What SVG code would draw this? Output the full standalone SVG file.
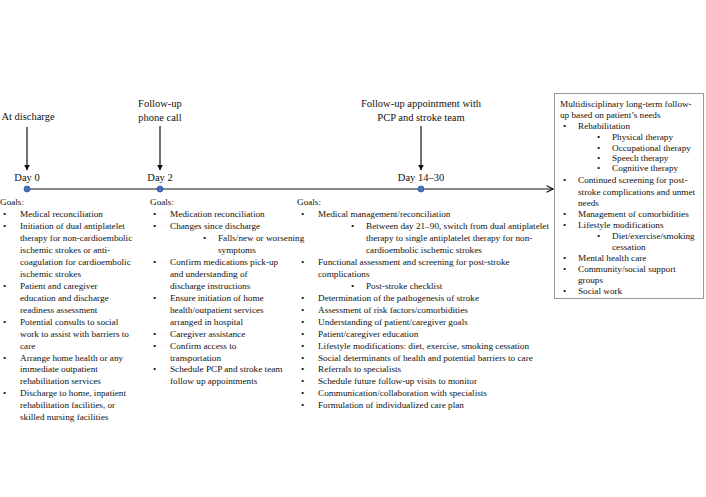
<svg xmlns="http://www.w3.org/2000/svg" width="706" height="497" viewBox="0 0 706 497">
<defs>
<style>
text{font-family:"Liberation Serif","Times New Roman",serif;fill:#111;}
.b{font-size:9.2px;}
.h{font-size:10.5px;}
.c{text-anchor:middle;}
.ar{stroke:#111;stroke-width:1.2;fill:none;}
.dot{fill:#4472C4;stroke:#2F5597;stroke-width:0.8;}
</style>
<marker id="ah" viewBox="0 0 10 10" refX="9" refY="5" markerWidth="6" markerHeight="6" orient="auto" markerUnits="userSpaceOnUse"><path d="M0,0 L10,5 L0,10 z" fill="#111"/></marker>
<marker id="oa" viewBox="0 0 10 10" refX="9" refY="5" markerWidth="8" markerHeight="8" orient="auto" markerUnits="userSpaceOnUse"><path d="M1,1 L9,5 L1,9" fill="none" stroke="#111" stroke-width="1.4"/></marker>
</defs>
<rect width="706" height="497" fill="#fff"/>
<g id="connectors">
<line class="ar" x1="27" y1="189" x2="553" y2="189" marker-end="url(#oa)"/>
<line class="ar" x1="27" y1="127" x2="27" y2="170" marker-end="url(#ah)"/>
<line class="ar" x1="160" y1="126" x2="160" y2="170" marker-end="url(#ah)"/>
<line class="ar" x1="421" y1="126" x2="421" y2="170" marker-end="url(#ah)"/>
</g>
<g id="day0">
<text class="h c" x="28" y="120">At discharge</text>
<text class="h c" x="27" y="181">Day 0</text>
<circle class="dot" cx="27" cy="189" r="3"/>
<g class="b">
<text x="0" y="205">Goals:</text>
<text x="3" y="217">•</text><text x="20" y="217">Medical reconciliation</text>
<text x="3" y="229">•</text><text x="20" y="229">Initiation of dual antiplatelet</text>
<text x="20" y="241">therapy for non-cardioembolic</text>
<text x="20" y="253">ischemic strokes or anti-</text>
<text x="20" y="265">coagulation for cardioembolic</text>
<text x="20" y="277">ischemic strokes</text>
<text x="3" y="289">•</text><text x="20" y="289">Patient and caregiver</text>
<text x="20" y="301">education and discharge</text>
<text x="20" y="313">readiness assessment</text>
<text x="3" y="325">•</text><text x="20" y="325">Potential consults to social</text>
<text x="20" y="337">work to assist with barriers to</text>
<text x="20" y="349">care</text>
<text x="3" y="361">•</text><text x="20" y="361">Arrange home health or any</text>
<text x="20" y="372">immediate outpatient</text>
<text x="20" y="384">rehabilitation services</text>
<text x="3" y="396">•</text><text x="20" y="396">Discharge to home, inpatient</text>
<text x="20" y="408">rehabilitation facilities, or</text>
<text x="20" y="420">skilled nursing facilities</text>
</g>
</g>
<g id="day2">
<text class="h c" x="160" y="107">Follow-up</text>
<text class="h c" x="160" y="121">phone call</text>
<text class="h c" x="160" y="181">Day 2</text>
<circle class="dot" cx="160" cy="189" r="3"/>
<g class="b">
<text x="150" y="205">Goals:</text>
<text x="153" y="217">•</text><text x="170" y="217">Medication reconciliation</text>
<text x="153" y="229">•</text><text x="170" y="229">Changes since discharge</text>
<text x="203" y="241">•</text><text x="218" y="241">Falls/new or worsening</text>
<text x="218" y="253">symptoms</text>
<text x="153" y="265">•</text><text x="170" y="265">Confirm medications pick-up</text>
<text x="170" y="277">and understanding of</text>
<text x="170" y="289">discharge instructions</text>
<text x="153" y="301">•</text><text x="170" y="301">Ensure initiation of home</text>
<text x="170" y="313">health/outpatient services</text>
<text x="170" y="325">arranged in hospital</text>
<text x="153" y="337">•</text><text x="170" y="337">Caregiver assistance</text>
<text x="153" y="349">•</text><text x="170" y="349">Confirm access to</text>
<text x="170" y="361">transportation</text>
<text x="153" y="372">•</text><text x="170" y="372">Schedule PCP and stroke team</text>
<text x="170" y="384">follow up appointments</text>
</g>
</g>
<g id="day14">
<text class="h c" x="421" y="107">Follow-up appointment with</text>
<text class="h c" x="421" y="121">PCP and stroke team</text>
<text class="h c" x="421" y="181">Day 14–30</text>
<circle class="dot" cx="421" cy="189" r="3"/>
<g class="b">
<text x="297" y="205">Goals:</text>
<text x="301" y="217">•</text><text x="318" y="217">Medical management/reconciliation</text>
<text x="351" y="229">•</text><text x="366" y="229">Between day 21–90, switch from dual antiplatelet</text>
<text x="366" y="241">therapy to single antiplatelet therapy for non-</text>
<text x="366" y="253">cardioembolic ischemic strokes</text>
<text x="301" y="265">•</text><text x="318" y="265">Functional assessment and screening for post-stroke</text>
<text x="318" y="277">complications</text>
<text x="351" y="289">•</text><text x="366" y="289">Post-stroke checklist</text>
<text x="301" y="301">•</text><text x="318" y="301">Determination of the pathogenesis of stroke</text>
<text x="301" y="313">•</text><text x="318" y="313">Assessment of risk factors/comorbidities</text>
<text x="301" y="325">•</text><text x="318" y="325">Understanding of patient/caregiver goals</text>
<text x="301" y="337">•</text><text x="318" y="337">Patient/caregiver education</text>
<text x="301" y="349">•</text><text x="318" y="349">Lifestyle modifications: diet, exercise, smoking cessation</text>
<text x="301" y="361">•</text><text x="318" y="361">Social determinants of health and potential barriers to care</text>
<text x="301" y="372">•</text><text x="318" y="372">Referrals to specialists</text>
<text x="301" y="384">•</text><text x="318" y="384">Schedule future follow-up visits to monitor</text>
<text x="301" y="396">•</text><text x="318" y="396">Communication/collaboration with specialists</text>
<text x="301" y="408">•</text><text x="318" y="408">Formulation of individualized care plan</text>
</g>
</g>
<g id="longterm">
<rect x="554.5" y="93.5" width="149" height="205" fill="#fff" stroke="#999" stroke-width="1"/>
<g class="b">
<text x="560" y="107">Multidisciplinary long-term follow-</text>
<text x="560" y="118">up based on patient’s needs</text>
<text x="563" y="129">•</text><text x="578" y="129">Rehabilitation</text>
<text x="597" y="140">•</text><text x="612" y="140">Physical therapy</text>
<text x="597" y="151">•</text><text x="612" y="151">Occupational therapy</text>
<text x="597" y="161">•</text><text x="612" y="161">Speech therapy</text>
<text x="597" y="171">•</text><text x="612" y="171">Cognitive therapy</text>
<text x="563" y="183">•</text><text x="578" y="183">Continued screening for post-</text>
<text x="578" y="195">stroke complications and unmet</text>
<text x="578" y="206">needs</text>
<text x="563" y="217">•</text><text x="578" y="217">Management of comorbidities</text>
<text x="563" y="228">•</text><text x="578" y="228">Lifestyle modifications</text>
<text x="597" y="239">•</text><text x="612" y="239">Diet/exercise/smoking</text>
<text x="612" y="250">cessation</text>
<text x="563" y="261">•</text><text x="578" y="261">Mental health care</text>
<text x="563" y="272">•</text><text x="578" y="272">Community/social support</text>
<text x="578" y="283">groups</text>
<text x="563" y="294">•</text><text x="578" y="294">Social work</text>
</g>
</g>
</svg>
